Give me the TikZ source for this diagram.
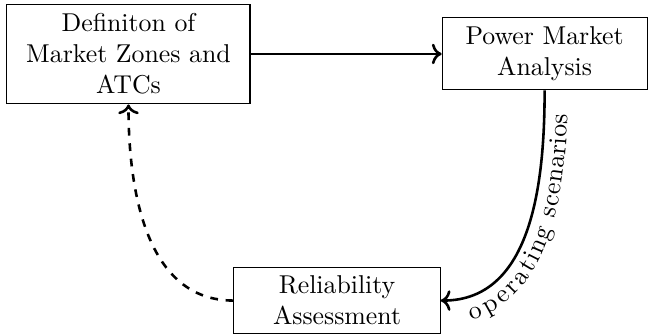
\documentclass[tikz,border=0pt]{standalone}
\usepackage{tikz}
\usetikzlibrary{arrows.meta,calc,positioning,decorations.text}
\tikzset{
  block/.style={
    draw,
    align=center,
    inner sep=3pt
  },
  line/.style={
    ->,
    line width=1pt
  }
}

\begin{document}
\begin{tikzpicture}
  \useasboundingbox (-1.75,0.735) rectangle (7.076,-3.841);
  \node[block, minimum width=3.31cm, minimum height=1.36cm] (zones) at (0,0) {Definiton of\\
    Market Zones and\\
    ATCs};
  \node[block, minimum width=2.79cm, minimum height=0.98cm] (market) at (5.668,0) {Power Market\\
    Analysis};
  \node[block, minimum width=2.81cm, minimum height=0.91cm] (reliab) at (2.841,-3.359) {Reliability\\
    Assessment};

  \draw[line] (zones) -- (market);
  \draw[line] (market.south) to[out=-90, in=0] (reliab.east);
  \path[decorate, decoration={text along path, text={operating scenarios},
      text align=center, raise=-9pt}] (reliab.east) to[out=0, in=-90] (market.south);
  \draw[line, dashed] (reliab.west) to[out=180, in=-90] (zones.south);
\end{tikzpicture}
\end{document}
